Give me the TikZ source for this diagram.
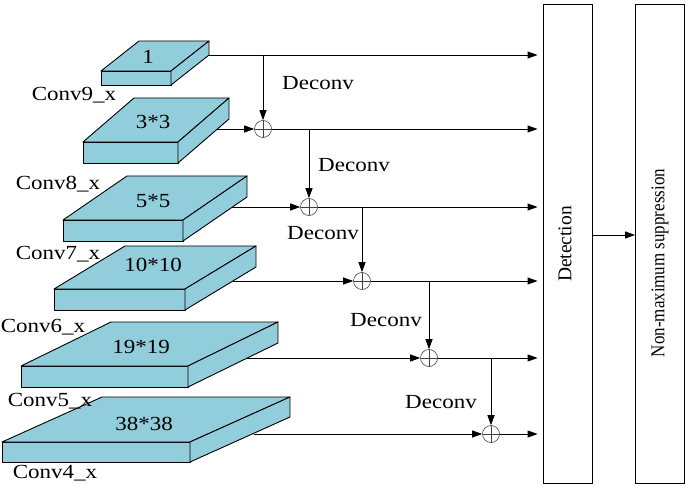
\documentclass[tikz,border=0pt]{standalone}
\usepackage{fontspec}
\setmainfont{Liberation Serif}
\newfontfamily\lblfont[FakeStretch=1.15]{Liberation Serif}
\newfontfamily\nmsfont[FakeStretch=0.87]{Liberation Serif}
\usetikzlibrary{arrows.meta,calc}
\definecolor{slabblue}{RGB}{146,205,220}
\tikzset{
  slabface/.style={fill=slabblue,draw=black,line width=0.9pt,line join=round},
  lbl/.style={font=\lblfont\fontsize{20}{24}\selectfont,inner sep=0pt},
  vlbl/.style={font=\fontsize{19.5}{24}\selectfont,inner sep=0pt,rotate=90},
  nmslbl/.style={font=\nmsfont\fontsize{19.5}{24}\selectfont,inner sep=0pt,rotate=90},
  link/.style={draw=black,line width=0.9pt},
  arr/.style={link,-{Triangle[length=10pt,width=7pt]}},
  sumnode/.style={circle,draw=black!75,line width=0.6pt,minimum size=17pt,inner sep=0pt,
    path picture={\draw[line width=0.6pt] (path picture bounding box.north) -- (path picture bounding box.south)
      (path picture bounding box.west) -- (path picture bounding box.east);}},
  tallbox/.style={draw,line width=0.9pt,minimum width=49pt,minimum height=479pt,inner sep=0pt}
}
% front top-left x, y, width, height, depth dx, depth rise
\newcommand{\drawslab}[6]{%
  \draw[slabface] (#1,#2) rectangle ({#1+#3},{#2+#4});
  \draw[slabface] (#1,#2) -- ({#1+#5},{#2-#6}) -- ({#1+#3+#5},{#2-#6}) -- ({#1+#3},#2) -- cycle;
  \draw[slabface] ({#1+#3},#2) -- ({#1+#3+#5},{#2-#6}) -- ({#1+#3+#5},{#2-#6+#4}) -- ({#1+#3},{#2+#4}) -- cycle;
}
\begin{document}
\begin{tikzpicture}[x=1pt,y=-1pt]
\useasboundingbox (0,0) rectangle (685,486);

% slabs
\drawslab{101}{71}{70}{14}{38}{30}
\drawslab{83}{142}{95}{21}{51}{44}
\drawslab{63}{220}{120}{21}{64}{44}
\drawslab{54}{289}{131}{21}{71}{43}
\drawslab{21}{366}{167}{21}{90}{44}
\drawslab{2}{442}{188}{20}{100}{45}

% slab size labels
\node[lbl] (n1) at (148,57) {1};
\node[lbl] (n2) at (153,122) {3*3};
\node[lbl] (n3) at (153,201) {5*5};
\node[lbl] (n4) at (153,265) {10*10};
\node[lbl] (n5) at (141,347) {19*19};
\node[lbl] (n6) at (144,424) {38*38};

% layer names
\node[lbl] (c9) at (74,95) {Conv9\_x};
\node[lbl] (c8) at (58,184) {Conv8\_x};
\node[lbl] (c7) at (58,254) {Conv7\_x};
\node[lbl] (c6) at (43,327) {Conv6\_x};
\node[lbl] (c5) at (50,401) {Conv5\_x};
\node[lbl] (c4) at (55,473) {Conv4\_x};

% output start points on slab side faces
\coordinate (r1) at (209,55);
\coordinate (r2) at (217,129);
\coordinate (r3) at (232,207);
\coordinate (r4) at (233,281);
\coordinate (r5) at (246,358);
\coordinate (r6) at (254,434);

% right boxes
\node[tallbox] (det) at (567.5,243.5) {};
\node[tallbox] (nms) at (660,243.5) {};
\node[vlbl] (dett) at (565,244) {Detection};
\node[nmslbl] (nmst) at (660,263) {Non-maximum suppression};

% sum nodes
\node[sumnode] (s1) at (263,129) {};
\node[sumnode] (s2) at (309,207) {};
\node[sumnode] (s3) at (362,281) {};
\node[sumnode] (s4) at (429,358) {};
\node[sumnode] (s5) at (491,434) {};

% Deconv labels
\node[lbl] (d1) at (318,83) {Deconv};
\node[lbl] (d2) at (354,165) {Deconv};
\node[lbl] (d3) at (323,233) {Deconv};
\node[lbl] (d4) at (386,320) {Deconv};
\node[lbl] (d5) at (441,402) {Deconv};

% row 1
\draw[arr,shorten >=5pt] (r1) -- (r1 -| det.west);
\draw[arr] (s1 |- r1) -- (s1.north);
% row 2
\draw[arr] (r2) -- (s1.west);
\draw[arr,shorten >=5pt] (s1.east) -- (s1 -| det.west);
\draw[arr] (s2 |- s1) -- (s2.north);
% row 3
\draw[arr] (r3) -- (s2.west);
\draw[arr,shorten >=5pt] (s2.east) -- (s2 -| det.west);
\draw[arr] (s3 |- s2) -- (s3.north);
% row 4
\draw[arr] (r4) -- (s3.west);
\draw[arr,shorten >=5pt] (s3.east) -- (s3 -| det.west);
\draw[arr] (s4 |- s3) -- (s4.north);
% row 5
\draw[arr] (r5) -- (s4.west);
\draw[arr,shorten >=5pt] (s4.east) -- (s4 -| det.west);
\draw[arr] (s5 |- s4) -- (s5.north);
% row 6
\draw[arr] (r6) -- (s5.west);
\draw[arr,shorten >=5pt] (s5.east) -- (s5 -| det.west);

% detection to NMS
\draw[arr] (det.east |- 0,235) -- (nms.west |- 0,235);
\end{tikzpicture}
\end{document}
